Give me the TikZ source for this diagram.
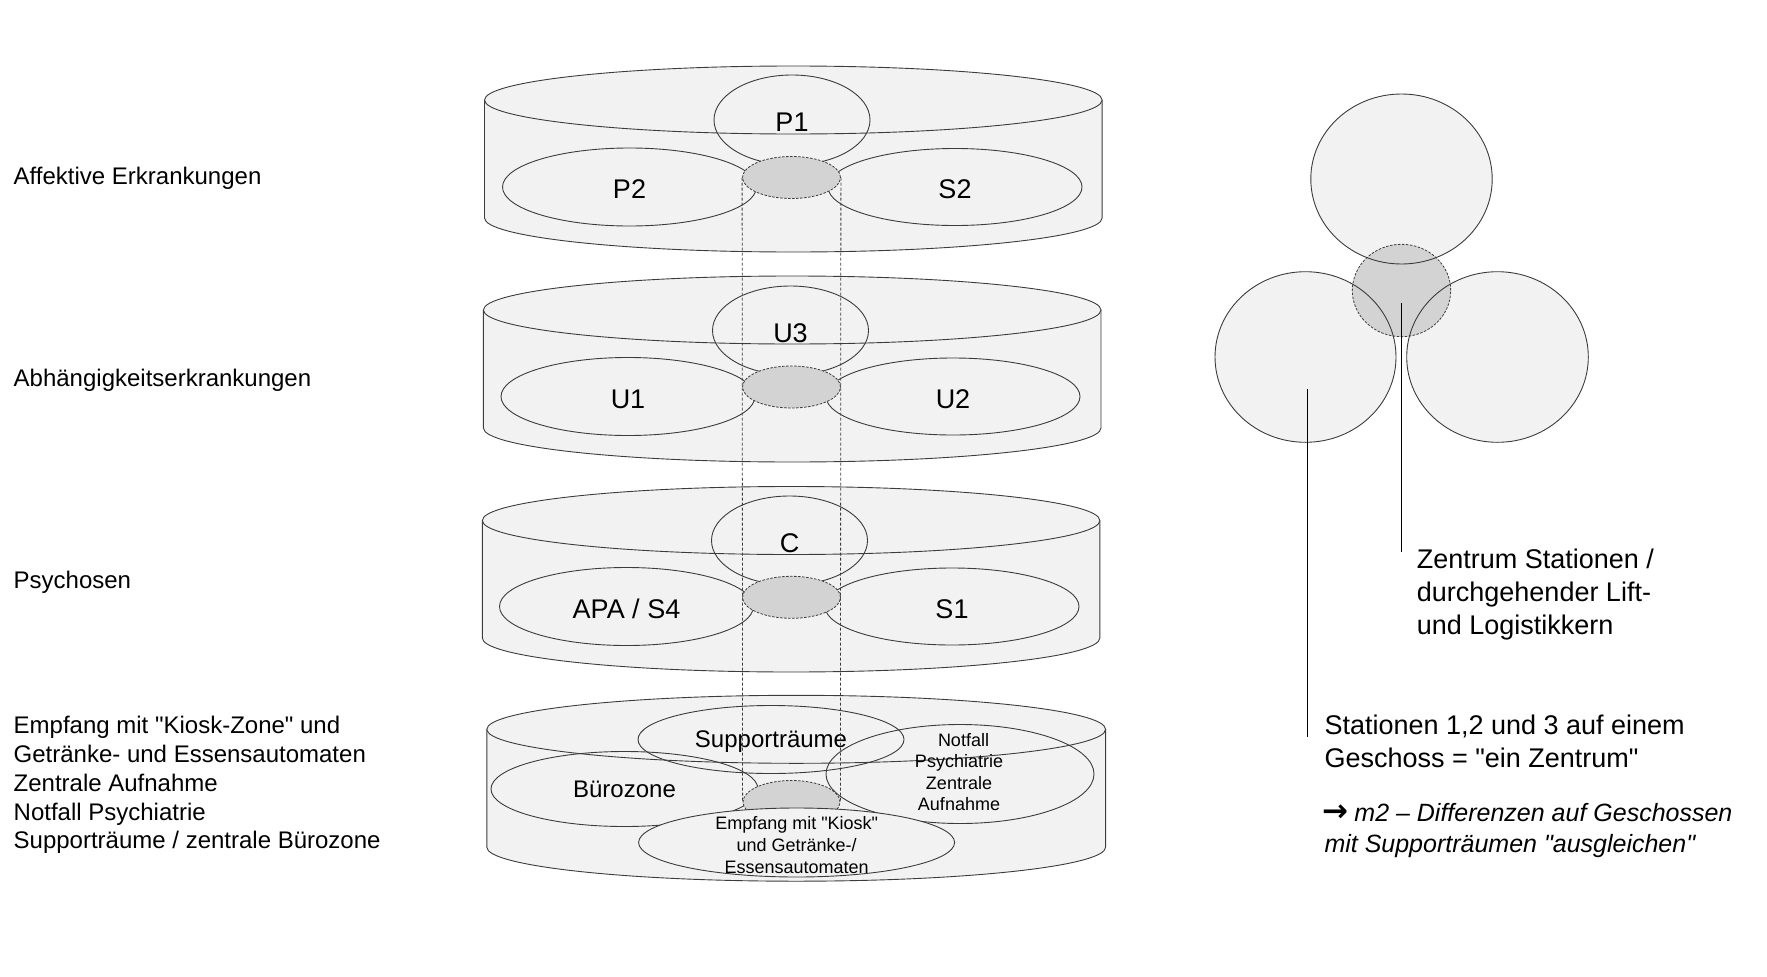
\documentclass[tikz,border=0pt]{standalone}
\usepackage{fontspec}
\setmainfont{Liberation Sans}[Ligatures=TeXOff]
\newfontfamily\symfont{DejaVu Sans}
\usetikzlibrary{shapes.geometric}
\definecolor{cylfill}{RGB}{242,242,242}
\definecolor{corefill}{RGB}{211,211,211}
\definecolor{edge}{RGB}{60,60,60}
\pgfdeclarelayer{lines}
\pgfdeclarelayer{top}
\pgfsetlayers{main,lines,top}
\tikzset{
  outl/.style={draw=edge, line width=0.9pt},
  cylbody/.style={ellipse, fill=cylfill, outl, inner sep=0pt},
  stn/.style={ellipse, outl, inner sep=0pt, text height=23pt, text depth=0pt, font=\fontsize{27pt}{32pt}\selectfont},
  zone/.style={ellipse, outl, inner sep=0pt, text depth=0pt, font=\fontsize{24pt}{28pt}\selectfont},
  core/.style={ellipse, fill=corefill, draw=edge, line width=0.8pt, dash pattern=on 2.5pt off 1.5pt, inner sep=0pt},
  coreline/.style={draw=edge, line width=0.8pt, dash pattern=on 3pt off 2pt},
  small/.style={inner sep=0pt, align=center, font=\fontsize{18pt}{21.6pt}\selectfont},
  leftlbl/.style={inner sep=0pt, align=left, font=\fontsize{24pt}{28.7pt}\selectfont},
  rightlbl/.style={inner sep=0pt, align=left, font=\fontsize{27pt}{33.2pt}\selectfont},
  circ/.style={ellipse, fill=cylfill, inner sep=0pt},
  conn/.style={draw=black, line width=1.3pt},
}
\newcommand\drawcan[6]{%
  \fill[cylfill] (#2-#5,#3) -- (#2-#5,#4) arc[start angle=180,end angle=360,x radius=#5pt,y radius=#6pt] -- (#2+#5,#3) -- cycle;
  \draw[outl] (#2-#5,#3) -- (#2-#5,#4) arc[start angle=180,end angle=360,x radius=#5pt,y radius=#6pt] -- (#2+#5,#3);
  \node[cylbody, minimum width=2*#5pt, minimum height=2*#6pt] (#1) at (#2,#3) {};
}
\begin{document}
\begin{tikzpicture}[x=1pt,y=-1pt]
\useasboundingbox (0,0) rectangle (1767,977);

% ---------- left labels
\node[leftlbl, anchor=base west] (la) at (13.5,184.5) {Affektive Erkrankungen};
\node[leftlbl, anchor=base west] (lb) at (13.5,386.5) {Abhängigkeitserkrankungen};
\node[leftlbl, anchor=base west] (lc) at (13.5,588) {Psychosen};
\node[leftlbl, anchor=north west] (ld) at (13.5,716.3) {Empfang mit "Kiosk-Zone" und\\Getränke- und Essensautomaten\\Zentrale Aufnahme\\Notfall Psychiatrie\\Supporträume / zentrale Bürozone};

% ---------- cylinder 1
\drawcan{c1}{793.3}{100}{218}{308.8}{34}
\node[stn, minimum width=156pt, minimum height=90pt] (p1) at (792,120) {P1};
\node[stn, minimum width=254pt, minimum height=78pt] (p2) at (629.5,187) {P2};
\node[stn, minimum width=254pt, minimum height=77pt] (s2) at (955,187) {S2};

% ---------- cylinder 2
\drawcan{c2}{792.2}{310}{428}{308.8}{34}
\node[stn, minimum width=156pt, minimum height=89pt] (u3) at (790.5,330.5) {U3};
\node[stn, minimum width=254pt, minimum height=78pt] (u1) at (628,396.5) {U1};
\node[stn, minimum width=254pt, minimum height=77pt] (u2) at (953,396.5) {U2};

% ---------- cylinder 3
\drawcan{c3}{791.1}{520.5}{638}{308.8}{34}
\node[stn, minimum width=156pt, minimum height=89pt] (cc) at (789.5,540.5) {C};
\node[stn, minimum width=254pt, minimum height=78pt] (apa) at (626.5,606.5) {APA / S4};
\node[stn, minimum width=254pt, minimum height=77pt] (s1) at (952,606.5) {S1};

% ---------- cylinder 4
\drawcan{c4}{796.2}{729.3}{847.2}{309.4}{34}
\node[zone, minimum width=266pt, minimum height=68pt] (sup) at (771,739.5) {Supporträume};
\node[zone, minimum width=267pt, minimum height=75pt] (bz) at (624.5,789) {Bürozone};
\node[ellipse, outl, inner sep=0pt, minimum width=268pt, minimum height=99pt] (nf) at (960,774) {};
\node[small] (nft) at (959,772) {\hspace*{9pt}Notfall\\Psychiatrie\\Zentrale\\Aufnahme};

% ---------- core shaft lines
\begin{pgfonlayer}{top}
\node[core, minimum width=98pt, minimum height=42pt] (g1) at (791.5,177.5) {};
\node[core, minimum width=98pt, minimum height=42pt] (g2) at (791.5,387) {};
\node[core, minimum width=98pt, minimum height=42pt] (g3) at (791.5,597.3) {};
\node[core, minimum width=97pt, minimum height=43pt] (g4) at (791.5,802) {};
\node[ellipse, fill=cylfill, outl, inner sep=0pt, minimum width=316pt, minimum height=69pt] (emp) at (796.6,842.5) {};
\node[small] (empt) at (796.7,845) {Empfang mit "Kiosk"\\und Getränke-/\\Essensautomaten};
\end{pgfonlayer}
\begin{pgfonlayer}{lines}
\draw[coreline] (g1.west) -- (g4.west);
\draw[coreline] (g1.east) -- (g4.east);
\end{pgfonlayer}

% ---------- right diagram
\node[circ, minimum width=181.4pt, minimum height=170pt] (ct) at (1401.5,179) {};
\node[circ, minimum width=181pt, minimum height=170.6pt] (cl) at (1305.5,357) {};
\node[circ, minimum width=181.6pt, minimum height=170.6pt] (cr) at (1497.5,357) {};
\node[core, minimum width=98.4pt, minimum height=92.4pt] (cz) at (1401.5,290.5) {};
\draw[outl] (ct.center) ellipse[x radius=90.7pt, y radius=85pt];
\draw[outl] (cl.center) ellipse[x radius=90.5pt, y radius=85.3pt];
\draw[outl] (cr.center) ellipse[x radius=90.8pt, y radius=85.3pt];

\coordinate (ka) at (1401.3,303.3);
\coordinate (kb) at (1401.3,552.3);
\coordinate (sa) at (1307.3,389.3);
\coordinate (sb) at (1307.3,736.7);
\draw[conn] (ka) -- (kb);
\draw[conn] (sa) -- (sb);

\node[rightlbl, anchor=north west] (tz) at (1416.7,548.3) {Zentrum Stationen /\\durchgehender Lift-\\und Logistikkern};
\node[rightlbl, anchor=north west] (ts) at (1324.3,714.6) {Stationen 1,2 und 3 auf einem\\Geschoss = "ein Zentrum"};
\node[inner sep=0pt, align=left, anchor=north west, font=\fontsize{25pt}{30.7pt}\selectfont\itshape] (tm) at (1324.3,803) {\hspace*{-2pt}{\symfont\upshape\bfseries\fontsize{31pt}{30.7pt}\selectfont →}\hspace{-1pt} m2 – Differenzen auf Geschossen\\mit Supporträumen "ausgleichen"};
\end{tikzpicture}
\end{document}
